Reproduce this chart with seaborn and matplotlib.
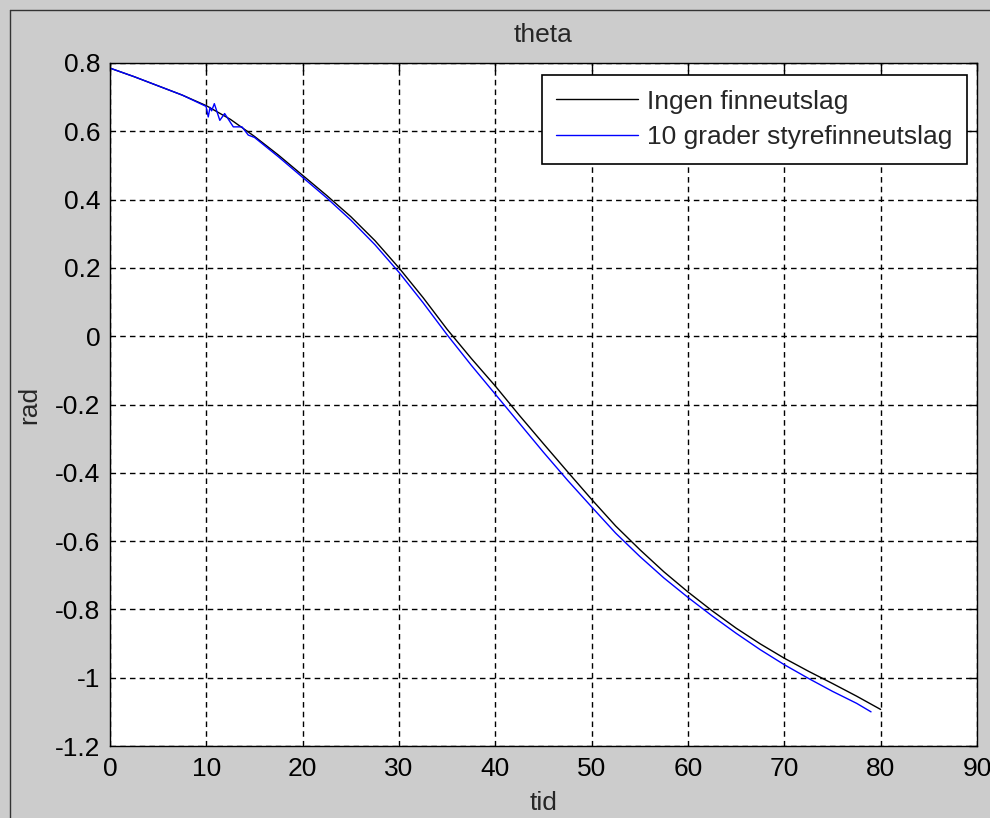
import matplotlib
matplotlib.use("Agg")
import matplotlib.pyplot as plt
import seaborn as sns
import pandas as pd
from matplotlib.lines import Line2D

# ---- data ----
t_black = [0, 2.5, 5, 7.5, 10, 12.5, 15, 17.5, 20, 22.5, 25, 27.5, 30, 32.5, 35, 37.5,
           40, 42.5, 45, 47.5, 50, 52.5, 55, 57.5, 60, 62.5, 65, 67.5, 70, 72.5, 75, 77.5, 80]
theta_black = [0.785, 0.760, 0.733, 0.706, 0.675, 0.635, 0.585, 0.530, 0.471, 0.412, 0.350,
               0.280, 0.200, 0.113, 0.020, -0.065, -0.146, -0.232, -0.315, -0.397, -0.478,
               -0.556, -0.625, -0.690, -0.749, -0.804, -0.855, -0.901, -0.943, -0.981,
               -1.017, -1.054, -1.093]

t_blue = [0, 2.5, 5, 7.5, 9.97, 10.2, 10.38, 10.55, 10.83, 11.4, 11.9, 12.8, 13.7, 14.35,
          15, 17.5, 20, 22.5, 25, 27.5, 30, 32.5, 35, 37.5, 40, 42.5, 45, 47.5, 50, 52.5,
          55, 57.5, 60, 62.5, 65, 67.5, 70, 72.5, 75, 77.5, 79]
theta_blue = [0.785, 0.760, 0.733, 0.706, 0.673, 0.642, 0.670, 0.660, 0.681, 0.632, 0.652,
              0.613, 0.613, 0.589, 0.582, 0.525, 0.465, 0.405, 0.340, 0.268, 0.187, 0.098,
              0.004, -0.085, -0.170, -0.255, -0.340, -0.422, -0.500, -0.577, -0.645, -0.708,
              -0.765, -0.819, -0.870, -0.918, -0.962, -1.002, -1.040, -1.075, -1.100]

label_black = "Ingen finneutslag"
label_blue = "10 grader styrefinneutslag"
x_ticks = [0, 10, 20, 30, 40, 50, 60, 70, 80, 90]
y_ticks = [-1.2, -1, -0.8, -0.6, -0.4, -0.2, 0, 0.2, 0.4, 0.6, 0.8]
y_tick_labels = ["-1.2", "-1", "-0.8", "-0.6", "-0.4", "-0.2", "0", "0.2", "0.4", "0.6", "0.8"]

df = pd.concat([
    pd.DataFrame({"tid": t_black, "rad": theta_black, "serie": label_black}),
    pd.DataFrame({"tid": t_blue, "rad": theta_blue, "serie": label_blue}),
], ignore_index=True)

# ---- style ----
sns.set_style("white")
plt.rcParams["font.family"] = ["Liberation Sans", "DejaVu Sans"]
fs = 19

fig = plt.figure(figsize=(9.9, 8.18), dpi=100, facecolor="#cccccc")
ax = fig.add_axes([110 / 990, 1 - 746 / 818, 867 / 990, 683 / 818])
ax.set_facecolor("white")

sns.lineplot(data=df, x="tid", y="rad", hue="serie", estimator=None, sort=False,
             palette={label_black: "black", label_blue: "blue"}, linewidth=1.0, ax=ax)

ax.set_xlim(0, 90)
ax.set_ylim(-1.2, 0.8)
ax.set_xticks(x_ticks)
ax.set_xticklabels([str(v) for v in x_ticks])
ax.set_yticks(y_ticks)
ax.set_yticklabels(y_tick_labels)
ax.grid(True, color="black", linestyle=(0, (4, 3)), linewidth=1.0)
ax.tick_params(direction="in", length=6, width=1, top=True, right=True,
               labelsize=fs, colors="black")
ax.tick_params(axis="y", pad=7)
ax.tick_params(axis="x", pad=8)
for s in ax.spines.values():
    s.set_color("black")
    s.set_linewidth(1.0)

ax.set_title("theta", fontsize=fs, pad=15)
ax.set_xlabel("tid", fontsize=fs, labelpad=7)
ax.set_ylabel("rad", fontsize=fs, labelpad=10)

handles = [Line2D([], [], color="black", lw=1.0), Line2D([], [], color="blue", lw=1.0)]
leg = ax.legend(handles, [label_black, label_blue], loc="upper right",
                bbox_to_anchor=((967 - 110) / 867, (746 - 75) / 683),
                fontsize=fs, handlelength=3.1, handletextpad=0.35, labelspacing=0.45,
                borderpad=0.55, borderaxespad=0, fancybox=False, framealpha=1,
                edgecolor="black")
leg.get_frame().set_linewidth(1.2)

# window frame lines
fig.add_artist(Line2D([10 / 990, 10 / 990], [0, 1 - 10 / 818], transform=fig.transFigure,
                      color="#333333", lw=1))
fig.add_artist(Line2D([10 / 990, 1], [1 - 10 / 818, 1 - 10 / 818], transform=fig.transFigure,
                      color="#333333", lw=1))

fig.savefig("out.png", dpi=100, facecolor=fig.get_facecolor())
